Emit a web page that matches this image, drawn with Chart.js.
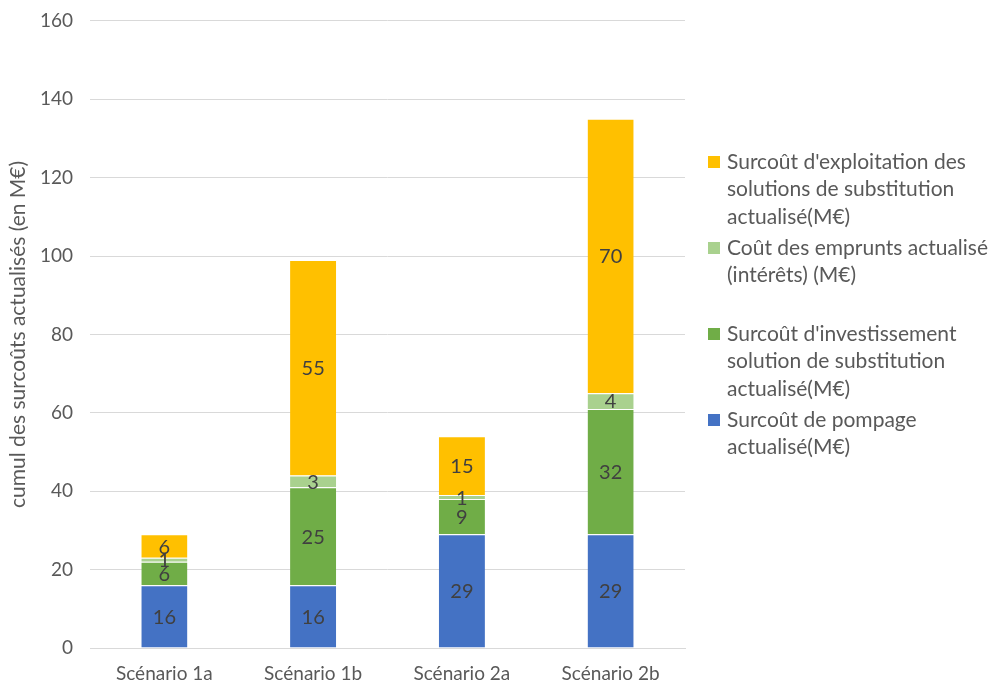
<!DOCTYPE html>
<html>
<head>
<meta charset="utf-8">
<script src="https://cdn.jsdelivr.net/npm/chart.js@4"></script>
<style>
  html, body { margin: 0; padding: 0; background: #fff; }
  #wrap { position: relative; width: 997px; height: 686px; }
</style>
</head>
<body>
<div id="wrap"><canvas id="surcouts" width="997" height="686"></canvas></div>
<script>
// Scenarios and cost components (M€)
const scenarios = ['Scénario 1a', 'Scénario 1b', 'Scénario 2a', 'Scénario 2b'];
const pompage = [16, 16, 29, 29];
const investissement = [6, 25, 9, 32];
const emprunts = [1, 3, 1, 4];
const exploitation = [6, 55, 15, 70];
const yTicks = [0, 20, 40, 60, 80, 100, 120, 140, 160];

const FONT = 'Lato, "Liberation Sans", sans-serif';
const GREY = '#595959';

// Legend entries, top to bottom, with their wrapped lines
const legendItems = [
    { color: '#FFC000', lines: ["Surcoût d'exploitation des", 'solutions de substitution', 'actualisé(M€)'] },
    { color: '#A9D18E', lines: ['Coût des emprunts actualisé', '(intérêts) (M€)', ''] },
    { color: '#70AD47', lines: ["Surcoût d'investissement", 'solution de substitution', 'actualisé(M€)'] },
    { color: '#4472C4', lines: ['Surcoût de pompage', 'actualisé(M€)'] }
];

// Values written in the middle of every segment
const segmentLabels = {
    id: 'segmentLabels',
    afterDatasetsDraw(chart) {
        const ctx = chart.ctx;
        ctx.save();
        ctx.font = `20px ${FONT}`;
        ctx.fillStyle = '#404040';
        ctx.textAlign = 'center';
        ctx.textBaseline = 'middle';
        chart.data.datasets.forEach((ds, i) => {
            chart.getDatasetMeta(i).data.forEach((bar, j) => {
                const mid = (bar.y + bar.base) / 2;
                ctx.fillText(String(ds.data[j]), bar.x, mid + 1);
            });
        });
        ctx.restore();
    }
};

// Legend on the right, with multi-line labels
const sideLegend = {
    id: 'sideLegend',
    afterDraw(chart) {
        const ctx = chart.ctx;
        ctx.save();
        ctx.font = `21px ${FONT}`;
        ctx.textBaseline = 'middle';
        const x = 708, lineH = 27.5;
        let y = 162;
        legendItems.forEach(item => {
            ctx.fillStyle = item.color;
            ctx.fillRect(x, y - 6, 12, 12);
            ctx.fillStyle = GREY;
            item.lines.forEach(line => {
                ctx.fillText(line, x + 19, y);
                y += lineH;
            });
            y += 3.5;
        });
        ctx.restore();
    }
};

// thin white line between stacked segments
const segBorder = { top: 1, bottom: 0, left: 0, right: 0 };

const ctx = document.getElementById('surcouts').getContext('2d');

new Chart(ctx, {
    type: 'bar',
    data: {
        labels: scenarios,
        datasets: [
            { label: 'Surcoût de pompage actualisé(M€)', data: pompage, backgroundColor: '#4472C4' },
            { label: "Surcoût d'investissement solution de substitution actualisé(M€)", data: investissement, backgroundColor: '#70AD47' },
            { label: 'Coût des emprunts actualisé (intérêts) (M€)', data: emprunts, backgroundColor: '#A9D18E' },
            { label: "Surcoût d'exploitation des solutions de substitution actualisé(M€)", data: exploitation, backgroundColor: '#FFC000' }
        ]
    },
    options: {
        responsive: false,
        animation: false,
        layout: { padding: { top: 0, right: 312, left: 0, bottom: 0 } },
        datasets: {
            bar: {
                barPercentage: 0.31,
                categoryPercentage: 1,
                borderColor: '#ffffff',
                borderWidth: segBorder,
                borderSkipped: false
            }
        },
        plugins: {
            legend: { display: false },
            tooltip: { enabled: false }
        },
        scales: {
            x: {
                stacked: true,
                grid: { display: false },
                border: { color: '#d9d9d9' },
                ticks: { color: GREY, font: { size: 19, family: FONT }, padding: 6 },
                afterFit(scale) { scale.height = 38; }
            },
            y: {
                stacked: true,
                min: 0,
                max: 160,
                afterBuildTicks(axis) { axis.ticks = yTicks.map(v => ({ value: v })); },
                grid: { color: '#d9d9d9', drawTicks: false },
                border: { display: false },
                ticks: { color: GREY, font: { size: 19, family: FONT, lineHeight: 0.4 }, padding: 17 },
                title: {
                    display: true,
                    text: 'cumul des surcoûts actualisés (en M€)',
                    color: GREY,
                    font: { size: 21, family: FONT },
                    padding: { top: 6, bottom: 8 }
                },
                afterFit(scale) { scale.width = 90; }
            }
        }
    },
    plugins: [segmentLabels, sideLegend]
});
</script>
</body>
</html>
